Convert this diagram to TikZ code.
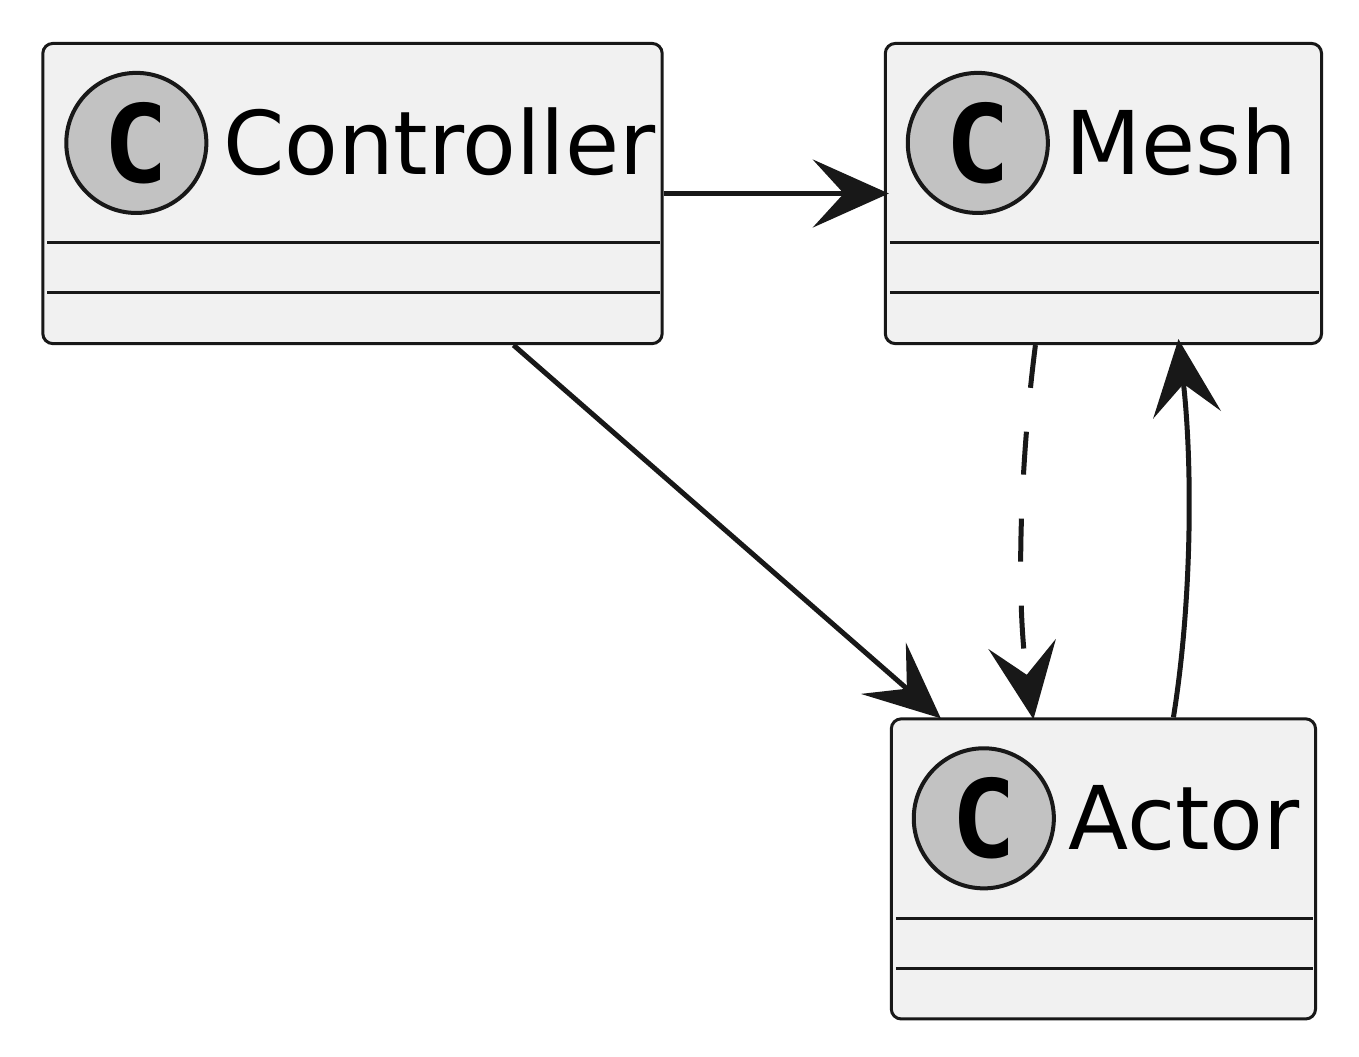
\documentclass[tikz,border=0pt]{standalone}
\usepackage{fontspec}
\setmainfont{DejaVu Sans}
\newfontfamily\spotfont{DejaVu Sans Mono}
\usepackage{tikz}
\usetikzlibrary{arrows.meta, positioning, calc}
\definecolor{umlfill}{HTML}{F1F1F1}
\definecolor{umlline}{HTML}{181818}
\definecolor{spotfill}{HTML}{C2C2C2}

\begin{document}
\begin{tikzpicture}[
    x=0.01cm, y=-0.01cm,
    cls/.style={rectangle, draw=umlline, fill=umlfill, line width=0.03cm, rounded corners=0.1cm, minimum height=3cm, inner sep=0pt},
    spot/.style={circle, draw=umlline, fill=spotfill, line width=0.04cm, minimum size=1.4cm, inner sep=0pt, font=\spotfont\bfseries\fontsize{30.7}{31}\selectfont},
    clsname/.style={anchor=base west, inner sep=0pt, font=\fontsize{25}{30}\selectfont},
    sep/.style={line width=0.03cm, color=umlline},
    rel/.style={line width=0.05cm, color=umlline, -{Stealth[length=0.76cm, width=0.68cm, inset=0.31cm]}}
]
\useasboundingbox (0,0) rectangle (1359,1056);

% classes
\node[cls, minimum width=6.19cm] (ctrl) at (352.5,193.5) {};
\node[cls, minimum width=4.36cm, right=2.20cm of ctrl] (mesh) {};
\node[cls, minimum width=4.24cm, below=3.72cm of mesh] (actor) {};

\node[spot] (ctrl-spot) at ($(ctrl.north west)+(95,101)$) {C};
\node[clsname] (ctrl-name) at ($(ctrl.north west)+(181,133)$) {Controller};
\draw[sep] ($(ctrl.north west)+(6,201)$) -- ($(ctrl.north east)+(-4,201)$);
\draw[sep] ($(ctrl.north west)+(6,251)$) -- ($(ctrl.north east)+(-4,251)$);

\node[spot] (mesh-spot) at ($(mesh.north west)+(94,101)$) {C};
\node[clsname] (mesh-name) at ($(mesh.north west)+(181,133)$) {Mesh};
\draw[sep] ($(mesh.north west)+(6,201)$) -- ($(mesh.north east)+(-4,201)$);
\draw[sep] ($(mesh.north west)+(6,251)$) -- ($(mesh.north east)+(-4,251)$);

\node[spot] (actor-spot) at ($(actor.north west)+(94,101)$) {C};
\node[clsname] (actor-name) at ($(actor.north west)+(178,132)$) {Actor};
\draw[sep] ($(actor.north west)+(6,201)$) -- ($(actor.north east)+(-4,201)$);
\draw[sep] ($(actor.north west)+(6,251)$) -- ($(actor.north east)+(-4,251)$);

% relations
\draw[rel] (ctrl.east) -- ($(mesh.west)+(5,0)$);
\draw[rel] ($(ctrl.south)+(161,0)$) -- ($(actor.north west)+(51,1)$);
\draw[rel, dash pattern=on 0.43cm off 0.44cm] ($(mesh.south)+(-68,0)$) .. controls ($(mesh.south)+(-83,117)$) and ($(actor.north)+(-88,-118)$) .. ($(actor.north)+(-70,2)$);
\draw[rel] ($(actor.north)+(70,0)$) .. controls ($(actor.north)+(89,-118)$) and ($(mesh.south)+(89,117)$) .. ($(mesh.south)+(75,-6)$);
\end{tikzpicture}
\end{document}
